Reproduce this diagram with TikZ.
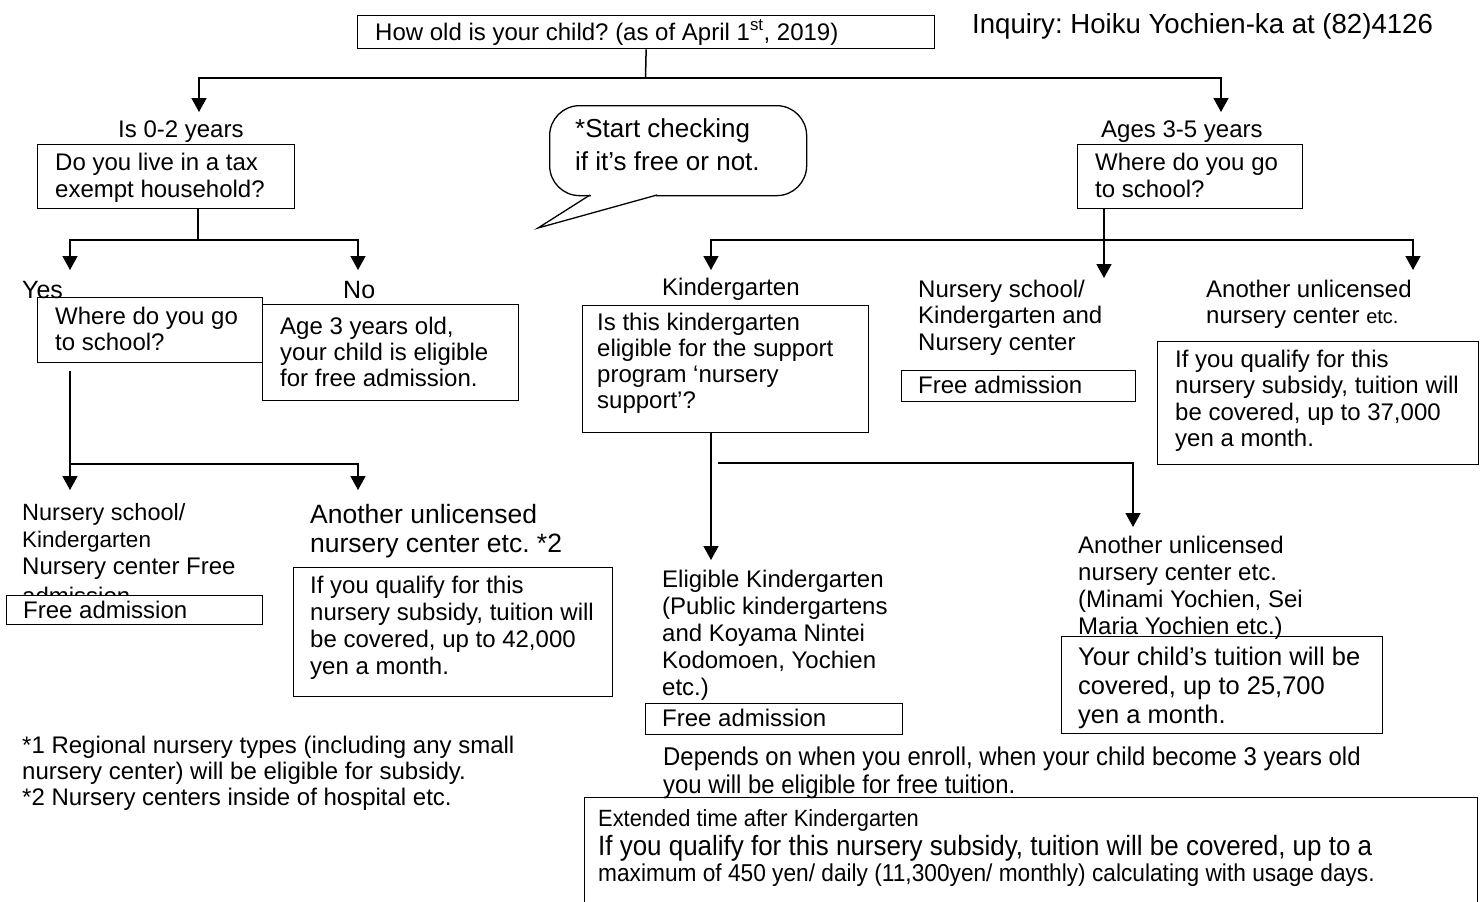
\documentclass[tikz,border=0pt]{standalone}
\usepackage{fontspec}
\setmainfont{Liberation Sans}
\newfontfamily\narrowfont{Liberation Sans}[FakeStretch=0.93]
\usetikzlibrary{arrows.meta}
\newcommand\ml[3]{{\frenchspacing\fontsize{#1}{#2}\selectfont\begin{tabular}[t]{@{}l@{}}#3\end{tabular}}}
\newcommand\nl[3]{{\frenchspacing\narrowfont\fontsize{#1}{#2}\selectfont\begin{tabular}[t]{@{}l@{}}#3\end{tabular}}}
\tikzset{
  box/.style={draw, line width=1.3pt, inner sep=0pt, anchor=north west},
  txt/.style={anchor=base west, inner sep=0pt},
  conn/.style={line width=1.5pt},
  arr/.style={conn, -{Triangle[width=15pt,length=14pt]}},
}
\begin{document}
\begin{tikzpicture}[x=1pt,y=-1pt]
\useasboundingbox (0,0) rectangle (1484,902);
\clip (0,0) rectangle (1484,902);
\fill[white] (0,0) rectangle (1484,902);

% top
\node[box, minimum width=577pt, minimum height=33pt] (q0) at (357,15) {};
\node[txt] (q0t) at (375,40) {\ml{24}{27}{How old is your child? (as of April 1\textsuperscript{st}, 2019)}};
\node[txt] (inq) at (972,33) {\ml{27.6}{30}{Inquiry: Hoiku Yochien-ka at (82)4126}};
\coordinate (j0) at (645.5,78);
\coordinate (t02) at (199,112);
\coordinate (t35) at (1221,112);
\draw[conn] (q0.south) -- (j0);
\draw[arr] (j0) -| (t02);
\draw[arr] (j0) -| (t35);

% left branch
\node[txt] (l02) at (118,137) {\ml{24}{27}{Is 0-2 years}};
\node[box, minimum width=257pt, minimum height=64pt] (b1) at (37,144) {};
\node[txt] (b1t) at (55,170) {\ml{24}{27}{Do you live in a tax\\exempt household?}};
\coordinate (b1s) at (198,208);
\coordinate (j1) at (198,240);
\coordinate (tyes) at (70,270);
\coordinate (tno) at (358,270);
\draw[conn] (b1s) -- (j1);
\draw[arr] (j1) -| (tyes);
\draw[arr] (j1) -| (tno);
\node[txt] (yes) at (22,298) {\ml{25}{28}{Yes}};
\node[txt] (no) at (343,298) {\ml{25}{28}{No}};

\node[box, minimum width=225pt, minimum height=65pt] (b2) at (37,297) {};
\node[txt] (b2t) at (55,324) {\ml{24}{26}{Where do you go\\to school?}};
\node[box, minimum width=256pt, minimum height=96pt] (b3) at (262,304) {};
\node[txt] (b3t) at (280,334) {\ml{24}{26}{Age 3 years old,\\your child is eligible\\for free admission.}};

\coordinate (b2s) at (70,371);
\coordinate (j2) at (70,464);
\coordinate (tns) at (70,490);
\coordinate (tun) at (358,490);
\draw[arr] (b2s) -- (tns);
\draw[arr] (j2) -| (tun);

\node[txt] (ns1a) at (22,520) {\ml{23.5}{27}{Nursery school/}};
\node[txt] (ns1b) at (22,547) {\ml{22.5}{27}{Kindergarten}};
\node[txt] (ns1c) at (22,574) {\ml{24}{27}{Nursery center Free}};
\node[txt] (ns1d) at (22,604) {\ml{24}{27}{admission}};
\node[box, fill=white, minimum width=256pt, minimum height=29pt] (fa1) at (6,595) {};
\node[txt] (fa1t) at (23,618) {\ml{24}{27}{Free admission}};

\node[txt] (un1) at (310,523) {\ml{26.5}{29}{Another unlicensed\\nursery center etc. *2}};
\node[box, minimum width=319pt, minimum height=129pt] (b4) at (293,567) {};
\node[txt] (b4t) at (310,593) {\ml{24}{27}{If you qualify for this\\nursery subsidy, tuition will\\be covered, up to 42,000\\yen a month.}};

% bubble
\node[box, rounded corners=30pt, minimum width=257pt, minimum height=90pt] (bub) at (549,105) {};
\fill[white] (591,192) rectangle (656,198);
\draw[line width=1.3pt] (590,195) -- (538,228) -- (657,195);
\node[txt] (bubt) at (575,137) {\ml{26}{33}{*Start checking\\if it’s free or not.}};

% right branch
\node[txt] (r35) at (1101,137) {\ml{24}{27}{Ages 3-5 years}};
\node[box, minimum width=225pt, minimum height=64pt] (b5) at (1077,144) {};
\node[txt] (b5t) at (1095,170) {\ml{24}{27}{Where do you go\\to school?}};
\coordinate (b5s) at (1104,208);
\coordinate (j5) at (1104,240);
\coordinate (tns2) at (1104,278);
\coordinate (tkg) at (711,270);
\coordinate (tun2) at (1413,270);
\draw[arr] (b5s) -- (tns2);
\draw[arr] (j5) -| (tkg);
\draw[arr] (j5) -| (tun2);

\node[txt] (kg) at (662,295) {\ml{24}{27}{Kindergarten}};
\node[box, minimum width=286pt, minimum height=127pt] (b6) at (582,305) {};
\node[txt] (b6t) at (597,330) {\ml{24}{26}{Is this kindergarten\\eligible for the support\\program ‘nursery\\support’?}};

\node[txt] (ns2) at (918,297) {\ml{24}{26.5}{Nursery school/\\Kindergarten and\\Nursery center}};
\node[box, minimum width=234pt, minimum height=31pt] (fa2) at (901,370) {};
\node[txt] (fa2t) at (918,393) {\ml{24}{27}{Free admission}};

\node[txt] (un2) at (1206,297) {\ml{24}{26}{Another unlicensed\\nursery center {\fontsize{20}{26}\selectfont etc.}}};
\node[box, minimum width=321pt, minimum height=123pt] (b7) at (1157,341) {};
\node[txt] (b7t) at (1175,367) {\ml{24}{26.5}{If you qualify for this\\nursery subsidy, tuition will\\be covered, up to 37,000\\yen a month.}};

\coordinate (b6s) at (711,432);
\coordinate (tel) at (711,560);
\coordinate (j6) at (718,463);
\coordinate (tun3) at (1133,527);
\draw[arr] (b6s) -- (tel);
\draw[arr] (j6) -| (tun3);

\node[txt] (el) at (662,587) {\ml{24}{27}{Eligible Kindergarten\\(Public kindergartens\\and Koyama Nintei\\Kodomoen, Yochien\\etc.)}};
\node[box, minimum width=257pt, minimum height=31pt] (fa3) at (645,703) {};
\node[txt] (fa3t) at (662,726) {\ml{24}{27}{Free admission}};

\node[txt] (un3) at (1078,553) {\ml{24}{27}{Another unlicensed\\nursery center etc.\\(Minami Yochien, Sei\\Maria Yochien etc.)}};
\node[box, minimum width=321pt, minimum height=97pt] (b8) at (1061,636) {};
\node[txt] (b8t) at (1078,665) {\ml{25.5}{29}{Your child’s tuition will be\\covered, up to 25,700\\yen a month.}};

% footnotes
\node[txt] (fn) at (22,753) {\ml{24}{26}{*1 Regional nursery types (including any small\\nursery center) will be eligible for subsidy.\\\relax *2 Nursery centers inside of hospital etc.}};

% bottom
\node[txt] (dep) at (663,765) {\nl{25.7}{28}{Depends on when you enroll, when your child become 3 years old\\you will be eligible for free tuition.}};
\node[box, minimum width=893pt, minimum height=130pt] (b9) at (584,797) {};
\node[txt] (b9a) at (598,826) {\nl{23.5}{27}{Extended time after Kindergarten}};
\node[txt] (b9b) at (598,855) {\nl{27.9}{30}{If you qualify for this nursery subsidy, tuition will be covered, up to a}};
\node[txt] (b9c) at (598,881) {\nl{24.4}{28}{maximum of 450 yen/ daily (11,300yen/ monthly) calculating with usage days.}};
\end{tikzpicture}
\end{document}
